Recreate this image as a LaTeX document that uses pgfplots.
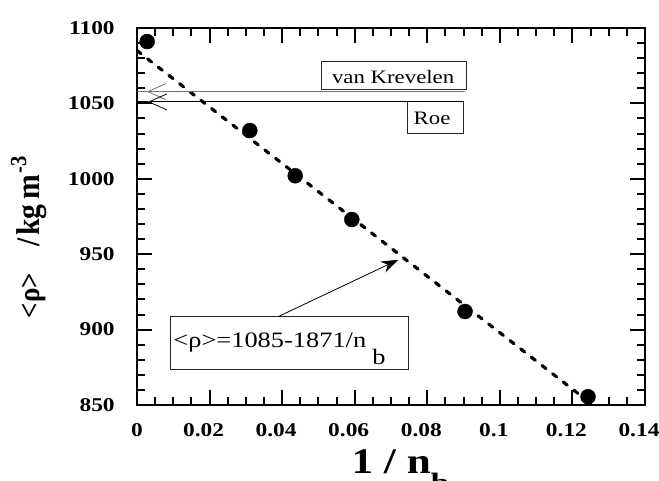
\documentclass[border=0pt]{standalone}
\usepackage{fontspec}
\setmainfont{Liberation Serif}[FakeStretch=1.2]
\newfontfamily\ylabfont{Liberation Serif}[FakeStretch=0.9]
\usepackage{pgfplots}
\pgfplotsset{compat=1.18}
\usetikzlibrary{arrows.meta}

\begin{document}
\begin{tikzpicture}
\begin{axis}[
  name=ax,
  scale only axis,
  width=508bp, height=377bp,
  xmin=0, xmax=0.14, ymin=850, ymax=1100,
  scaled x ticks=false, scaled y ticks=false,
  xtick={0,0.02,0.04,0.06,0.08,0.1,0.12,0.14},
  xticklabels={\kern12bp 0,0.02,0.04,0.06,0.08,0.1,0.12,0.14},
  ytick={850,900,950,1000,1050,1100},
  yticklabels={850,900,950,1000,1050,1100},
  minor x tick num=3, minor y tick num=4,
  major tick length=15bp, minor tick length=8bp,
  axis line style={line width=2.5bp},
  every tick/.style={black, line width=2bp},
  /pgf/number format/assume math mode=true,
  tick label style={font=\fontsize{19.5bp}{20bp}\selectfont\bfseries},
  yticklabel style={xshift=-18.8bp},
  xticklabel style={yshift=-15.2bp, xshift=-6bp},
  every axis x label/.style={at={(axis description cs:0.5187,-0.1804)}, anchor=base,
     font=\fontsize{36bp}{36bp}\selectfont\bfseries},
  every axis y label/.style={at={(axis description cs:-0.191,0.445)}, rotate=90, anchor=base,
     font=\ylabfont\fontsize{33bp}{33bp}\selectfont\bfseries},
  xlabel={1 / n\raisebox{-19bp}{\fontsize{28bp}{28bp}\selectfont b}},
  ylabel={{\fontsize{30bp}{30bp}\selectfont <ρ>}\hspace{26bp}/\hspace{3bp}kg\hspace{5bp}m\hspace{1bp}\raisebox{0.42em}{\fontsize{23bp}{23bp}\selectfont -3}},
]
% fit line
\addplot[black, line width=3.2bp, line cap=round, dash pattern=on 5bp off 8.5bp]
  coordinates {(0,1085) (0.1245,852.1)};
% data
\addplot[only marks, mark=*, mark size=7.5bp, black]
  coordinates {(0.0028,1091) (0.0311,1032) (0.0436,1002) (0.0592,973) (0.0904,912) (0.1243,855.5)};

% van Krevelen annotation
\draw[black!85, line width=1bp] (axis cs:0.0509,1078.1) rectangle (axis cs:0.0909,1058.9);
\node[anchor=base west, inner sep=0, font=\fontsize{19bp}{19bp}\selectfont] at (axis cs:0.0537,1063.3) {van Krevelen};
\draw[black!55, line width=1.2bp, -{Straight Barb[length=18bp,width=16bp,line width=0.8bp]}]
  (axis cs:0.0905,1057.8) -- (axis cs:0.0027,1057.8);
\draw[black!55, line width=1.2bp] (axis cs:0.0027,1057.8) -- (axis cs:0,1057.8);

% Roe annotation
\draw[black!85, line width=1bp] (axis cs:0.0745,1051.1) rectangle (axis cs:0.0901,1030.2);
\node[anchor=base west, inner sep=0, font=\fontsize{19bp}{19bp}\selectfont] at (axis cs:0.0762,1035.7) {Roe};
\draw[black, line width=0.8bp, -{Straight Barb[length=18bp,width=16bp,line width=0.8bp]}]
  (axis cs:0.0901,1051.0) -- (axis cs:0.0030,1051.0);
\draw[black, line width=0.8bp] (axis cs:0.0030,1051.0) -- (axis cs:0,1051.0);

% formula annotation
\draw[black!85, line width=1bp] (axis cs:0.0091,908.6) rectangle (axis cs:0.0748,873.7);
\node[anchor=base west, inner sep=0, font=\fontsize{22bp}{22bp}\selectfont] at (axis cs:0.0100,887.8)
  {<ρ>=1085-1871/n\hspace{6bp}\raisebox{-17bp}{b}};
\draw[black, line width=0.8bp, -{Stealth[length=17bp,width=12bp]}]
  (axis cs:0.0389,908.6) -- (axis cs:0.0720,946.3);
\end{axis}
\pgfresetboundingbox
\path[use as bounding box] ([shift={(-137bp,-76bp)}]ax.south west) rectangle ([shift={(14bp,28bp)}]ax.north east);
\end{tikzpicture}
\end{document}
